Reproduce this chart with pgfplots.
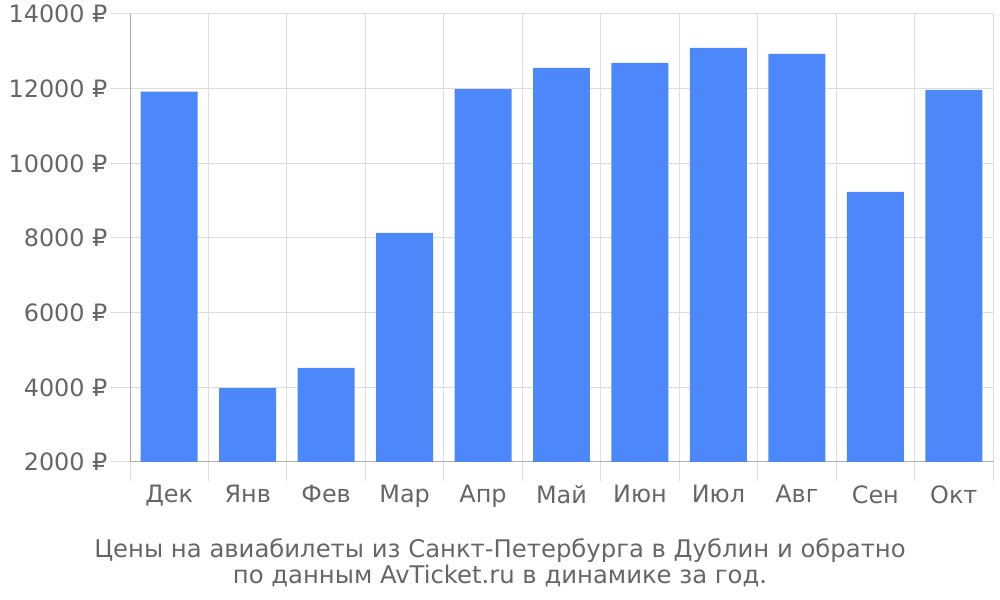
\documentclass[border=0pt]{standalone}
\usepackage{pgfplots}
\pgfplotsset{compat=1.18}
\usepackage{fontspec}
\setmainfont{DejaVu Sans}
\definecolor{barblue}{HTML}{4D88FB}
\definecolor{txt}{HTML}{666666}
\definecolor{gridc}{HTML}{DDDDDD}
\definecolor{axisc}{HTML}{AAAAAA}
\begin{document}
\begin{tikzpicture}[x=1bp,y=1bp]
\path[use as bounding box] (0,0) rectangle (1000,600);
\begin{axis}[
  at={(130bp,138bp)}, anchor=south west,
  scale only axis, width=863bp, height=448bp,
  xmin=-0.5, xmax=10.5, ymin=2000, ymax=14000,
  ytick={2000,4000,...,14000}, scaled y ticks=false,
  yticklabel={\pgfmathprintnumber[1000 sep={},fixed]{\tick}~₽},
  xtick={-0.5,0.5,...,10.5}, xticklabels={},
  extra x ticks={0,...,10},
  extra x tick labels={Дек,Янв,Фев,Мар,Апр,Май,Июн,Июл,Авг,Сен,Окт},
  extra x tick style={major tick length=0pt, grid=none,
    xticklabel style={yshift=-20bp}},
  xmajorgrids, ymajorgrids,
  grid style={draw=gridc, line width=1bp},
  tick align=outside, major tick length=19bp,
  tick style={draw=gridc, line width=1bp},
  axis x line*=bottom, axis y line*=left,
  x axis line style={draw=gridc!80!black, line width=1bp},
  y axis line style={draw=axisc, line width=1bp},
  ticklabel style={font=\fontsize{24}{28}\selectfont, text=txt},
  /pgf/number format/assume math mode=true,
]
\addplot[ybar, bar width=0.726, fill=barblue, draw=none] coordinates {
  (0,11920) (1,3980) (2,4520) (3,8135) (4,11990) (5,12555)
  (6,12690) (7,13090) (8,12930) (9,9235) (10,11965)
};
\end{axis}
\node[anchor=base, text=txt, font=\fontsize{24.4}{28}\selectfont] at (500,42) {Цены на авиабилеты из Санкт-Петербурга в Дублин и обратно};
\node[anchor=base, text=txt, font=\fontsize{24.4}{28}\selectfont] at (500,16) {по данным AvTicket.ru в динамике за год.};
\end{tikzpicture}
\end{document}
